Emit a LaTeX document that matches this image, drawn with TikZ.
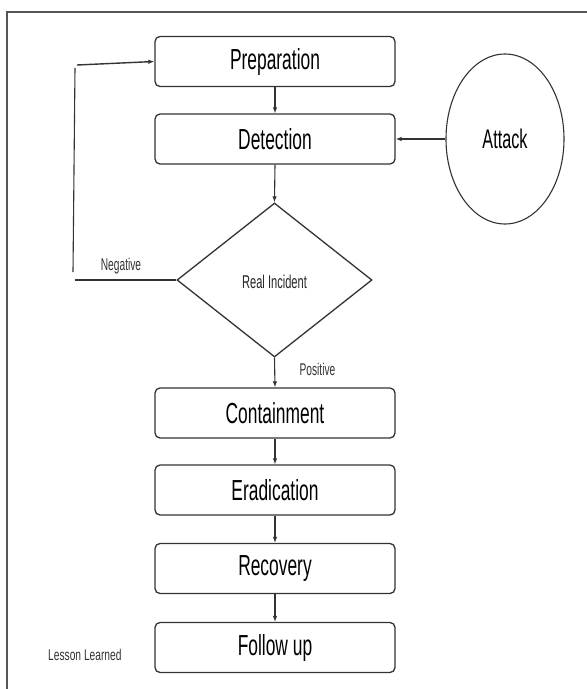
\documentclass[tikz,border=0pt]{standalone}
\usepackage{fontspec}
\setmainfont{Liberation Sans}
\newfontfamily\cf[FakeStretch=0.6]{Liberation Sans}
\newfontfamily\cfl[FakeStretch=0.66]{Liberation Sans}
\usetikzlibrary{shapes.geometric,arrows.meta}
\definecolor{linec}{HTML}{333333}
\definecolor{framec}{HTML}{555555}
\tikzset{
  stepbox/.style={draw=linec, line width=1.3pt, rounded corners=5pt, minimum width=240pt, minimum height=50pt, inner sep=0pt, font=\cf\fontsize{29}{30}\selectfont, text=black},
  decbox/.style={draw=linec, line width=1.3pt, diamond, minimum width=195pt, minimum height=154pt, inner sep=0pt, font=\cf\fontsize{18.5}{20}\selectfont, text=black!85},
  attbox/.style={draw=linec, line width=1.1pt, ellipse, minimum width=118pt, minimum height=170pt, inner sep=0pt, font=\cf\fontsize{27}{28}\selectfont, text=black},
  lbl/.style={font=\cf\fontsize{17}{18}\selectfont, text=black!80, inner sep=0pt},
  conn/.style={draw=linec, line width=1.1pt},
  arr/.style={conn, -{Latex[length=6pt,width=4.5pt]}}
}
\begin{document}
\begin{tikzpicture}[x=1pt,y=-1pt]
\useasboundingbox (0,0) rectangle (587,689);
\fill[white] (0,0) rectangle (587,689);
% frame
\draw[framec, line width=1.1pt] (7,689) -- (7,12) -- (587,12);
% nodes
\node[stepbox] (prep) at (275,61.5) {Preparation};
\node[stepbox] (det) at (275,139) {Detection};
\node[attbox] (att) at (505,139) {Attack};
\node[decbox] (dia) at (274.5,280) {};
\node[font=\cf\fontsize{18.5}{20}\selectfont, text=black!85, inner sep=0pt] (diat) at (274.5,282) {Real Incident};
\node[stepbox] (cont) at (275,413) {Containment};
\node[stepbox] (erad) at (275,490) {Eradication};
\node[stepbox] (rec) at (275,568.5) {Recovery};
\node[stepbox] (fol) at (275,647.5) {Follow up};
% labels
\node[lbl] (neg) at (121,266) {Negative};
\node[lbl] (pos) at (317.5,369) {Positive};
\node[lbl, font=\cfl\fontsize{15.5}{17}\selectfont, anchor=west] (les) at (48,655) {Lesson Learned};
% feedback coordinates
\coordinate (n1) at (75,280);
\coordinate (n2) at (73,272);
\coordinate (n3) at (75,68);
\coordinate (n4) at (77,65);
% connectors
\draw[arr] (prep.south) -- (det.north);
\draw[arr] (att.west) -- (det.east);
\draw[arr] (det.south) -- (dia.north);
\draw[arr] (dia.south) -- (cont.north);
\draw[arr] (cont.south) -- (erad.north);
\draw[arr] (erad.south) -- (rec.north);
\draw[arr] (rec.south) -- (fol.north);
\draw[conn, line width=1.4pt] (dia.west) -- (n1);
\draw[conn] (n2) -- (n3);
\draw[arr, line width=1.4pt] (n4) -- (prep.west);
\end{tikzpicture}
\end{document}
